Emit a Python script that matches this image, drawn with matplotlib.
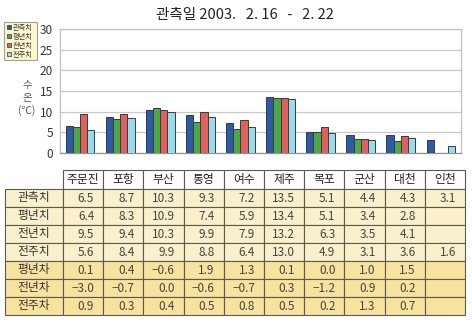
import numpy as np
import matplotlib
matplotlib.use("Agg")
import matplotlib.pyplot as plt
from matplotlib.patches import Rectangle

plt.rcParams['font.family'] = ['Noto Sans CJK KR', 'DejaVu Sans']

stations = ["주문진", "포항", "부산", "통영", "여수", "제주", "목포", "군산", "대천", "인천"]
series_names = ["관측치", "평년치", "전년치", "전주치"]
observed = [6.5, 8.7, 10.3, 9.3, 7.2, 13.5, 5.1, 4.4, 4.3, 3.1]
normal = [6.4, 8.3, 10.9, 7.4, 5.9, 13.4, 5.1, 3.4, 2.8, None]
last_year = [9.5, 9.4, 10.3, 9.9, 7.9, 13.2, 6.3, 3.5, 4.1, None]
last_week = [5.6, 8.4, 9.9, 8.8, 6.4, 13.0, 4.9, 3.1, 3.6, 1.6]
diff_names = ["평년차", "전년차", "전주차"]
diff_normal = [0.1, 0.4, -0.6, 1.9, 1.3, 0.1, 0.0, 1.0, 1.5, None]
diff_year = [-3.0, -0.7, 0.0, -0.6, -0.7, 0.3, -1.2, 0.9, 0.2, None]
diff_week = [0.9, 0.3, 0.4, 0.5, 0.8, 0.5, 0.2, 1.3, 0.7, None]
title = "관측일 2003.   2. 16   -   2. 22"
yticks = [0, 5, 10, 15, 20, 25, 30]

colors = ["#2A5CA8", "#4EA84A", "#E0605E", "#96DCEC"]

W, H = 472, 323
fig = plt.figure(figsize=(W / 100, H / 100), dpi=100)
fig.patch.set_facecolor("white")

def fx(px):
    return px / W

def fy(py):
    return 1 - py / H

# ---- chart ----
ax_l, ax_r, ax_t, ax_b = 60, 461, 29, 153
ax = fig.add_axes([fx(ax_l), fy(ax_b), fx(ax_r - ax_l), (ax_b - ax_t) / H])
x = np.arange(len(stations))
bw = 0.18
all_series = [observed, normal, last_year, last_week]
for k, (vals, c) in enumerate(zip(all_series, colors)):
    v = np.array([np.nan if a is None else a for a in vals], dtype=float)
    ax.bar(x + (k - 1.5) * bw, v, width=bw, color=c, edgecolor="#3a3a3a",
           linewidth=0.7, zorder=3)
ax.set_xlim(-0.5, len(stations) - 0.5)
ax.set_ylim(0, 30)
ax.set_yticks(yticks)
ax.set_xticks([])
ax.grid(axis="y", color="#c8c8c8", linewidth=0.9, zorder=0)
ax.tick_params(axis="y", length=0, labelsize=8.5, labelcolor="#333333", pad=5)
for s in ax.spines.values():
    s.set_color("#c0c0c0")
    s.set_linewidth(0.9)
ax.spines["bottom"].set_color("#909090")

# title
fig.text(fx(245), fy(15), title, ha="center", va="center", fontsize=10.5, color="#222222")

# y label
fig.text(fx(27), fy(85), "수", ha="center", va="center", fontsize=7.5, color="#555555")
fig.text(fx(27), fy(98), "온", ha="center", va="center", fontsize=7.5, color="#555555")
fig.text(fx(27), fy(111), "(℃)", ha="center", va="center", fontsize=7.5, color="#555555")

# overlay axes for legend and table in pixel coords
ov = fig.add_axes([0, 0, 1, 1], zorder=5)
ov.set_xlim(0, W)
ov.set_ylim(H, 0)
ov.axis("off")
ov.patch.set_alpha(0)

# legend
ov.add_patch(Rectangle((4, 22), 33, 38, facecolor="#FFF7CF", edgecolor="#a0a090", linewidth=0.8))
for i, (name, c) in enumerate(zip(series_names, colors)):
    yy = 27 + i * 9
    ov.add_patch(Rectangle((6.5, yy - 2.3), 4.6, 4.6, facecolor=c, edgecolor="#333333", linewidth=0.5))
    ov.text(12.5, yy + 0.3, name, ha="left", va="center_baseline", fontsize=5.2, color="#333333")

# table
tab_left, lab_left = 63, 5
tab_right = 465
head_top, head_bot = 170, 189
row_h = 18
ncol = len(stations)
col_w = (tab_right - tab_left) / ncol
line_c = "#5a5a50"

rows = [observed, normal, last_year, last_week, diff_normal, diff_year, diff_week]
row_names = series_names + diff_names
row_colors = ["#FBF0CC"] * 4 + ["#F7E39E"] * 3

# header
for j, st in enumerate(stations):
    x0 = tab_left + j * col_w
    ov.add_patch(Rectangle((x0, head_top), col_w, head_bot - head_top, facecolor="white",
                           edgecolor=line_c, linewidth=0.8))
    ov.text(x0 + col_w / 2, (head_top + head_bot) / 2, st, ha="center", va="center",
            fontsize=8.5, color="#222222")

def fmt(v):
    if v is None:
        return ""
    s = f"{v:.1f}"
    return s.replace("-", "−")

for i, (rn, vals, rc) in enumerate(zip(row_names, rows, row_colors)):
    y0 = head_bot + i * row_h
    ov.add_patch(Rectangle((lab_left, y0), tab_left - lab_left, row_h, facecolor=rc,
                           edgecolor=line_c, linewidth=0.8))
    ov.text((lab_left + tab_left) / 2, y0 + row_h / 2, rn, ha="center", va="center",
            fontsize=8.5, color="#333333")
    for j, v in enumerate(vals):
        x0 = tab_left + j * col_w
        ov.add_patch(Rectangle((x0, y0), col_w, row_h, facecolor=rc,
                               edgecolor=line_c, linewidth=0.8))
        ov.text(x0 + col_w - 9, y0 + row_h / 2, fmt(v), ha="right", va="center",
                fontsize=8.5, color="#444444")

fig.savefig("out.png", dpi=100, facecolor="white")
